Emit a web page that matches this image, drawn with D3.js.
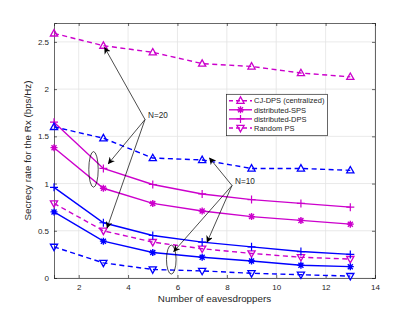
<!DOCTYPE html>
<meta charset="utf-8">
<style>
    html, body { margin: 0; padding: 0; background: #fff; }
    svg { font-family: "Liberation Sans", Arial, sans-serif; }
    .tick text { fill: #262626; font-size: 8px; }
</style>
<div id="chart"></div>
<script src="https://d3js.org/d3.v7.min.js"></script>
<script>
    // eavesdropper counts on the x axis
    let eves = [1, 3, 5, 7, 9, 11, 13];

    // N=20 (magenta)
    let cjDps20 = [2.59, 2.46, 2.39, 2.27, 2.24, 2.17, 2.13];
    let sps20 = [1.38, 0.95, 0.79, 0.71, 0.65, 0.61, 0.57];
    let dps20 = [1.65, 1.16, 0.99, 0.89, 0.83, 0.79, 0.75];
    let rnd20 = [0.79, 0.50, 0.38, 0.31, 0.26, 0.22, 0.20];

    // N=10 (blue)
    let cjDps10 = [1.60, 1.48, 1.27, 1.25, 1.16, 1.16, 1.14];
    let sps10 = [0.70, 0.39, 0.27, 0.22, 0.18, 0.135, 0.12];
    let dps10 = [0.96, 0.585, 0.45, 0.38, 0.33, 0.28, 0.25];
    let rnd10 = [0.33, 0.16, 0.09, 0.075, 0.05, 0.035, 0.02];

    let xTicks = [2, 4, 6, 8, 10, 12, 14];
    let yTicks = [0, 0.5, 1, 1.5, 2, 2.5];
    let legendNames = ["CJ-DPS (centralized)", "distributed-SPS", "distributed-DPS", "Random PS"];

    const magenta = "#cc00cc", blue = "#0000ff";

    let width = 415, height = 312;
    let margin = {left: 54, right: 40, top: 23, bottom: 34};

    let svg = d3.select("#chart").append("svg")
        .attr("width", width)
        .attr("height", height);

    let x = d3.scaleLinear().domain([1, 14]).range([margin.left, width - margin.right]);
    let y = d3.scaleLinear().domain([0, 2.7]).range([height - margin.bottom, margin.top]);

    // grid
    svg.append("g").selectAll("line").data(xTicks).join("line")
        .attr("x1", d => x(d)).attr("x2", d => x(d))
        .attr("y1", y(0)).attr("y2", y(2.7))
        .attr("stroke", "#e3e3e3").attr("stroke-width", 0.8);
    svg.append("g").selectAll("line").data(yTicks).join("line")
        .attr("y1", d => y(d)).attr("y2", d => y(d))
        .attr("x1", x(1)).attr("x2", x(14))
        .attr("stroke", "#e3e3e3").attr("stroke-width", 0.8);

    // axes
    svg.append("g")
        .attr("transform", `translate(0,${y(0)})`)
        .call(d3.axisBottom(x).tickValues(xTicks).tickSize(-3).tickPadding(6));
    svg.append("g")
        .attr("transform", `translate(${x(1)},0)`)
        .call(d3.axisLeft(y).tickValues(yTicks).tickSize(-3).tickPadding(5).tickFormat(d3.format("")));
    // top / right axes
    svg.append("g")
        .attr("transform", `translate(0,${y(2.7)})`)
        .call(d3.axisTop(x).tickValues(xTicks).tickSize(-3).tickFormat(""));
    svg.append("g")
        .attr("transform", `translate(${x(14)},0)`)
        .call(d3.axisRight(y).tickValues(yTicks).tickSize(-3).tickFormat(""));
    svg.selectAll(".domain, .tick line").attr("stroke", "#262626").attr("stroke-width", 0.7);

    svg.append("text")
        .attr("x", (x(1) + x(14)) / 2).attr("y", 302)
        .attr("text-anchor", "middle")
        .attr("font-size", 9.8).attr("fill", "#262626")
        .text("Number of eavesdroppers");
    svg.append("text")
        .attr("transform", `translate(31,${(y(0) + y(2.7)) / 2}) rotate(-90)`)
        .attr("text-anchor", "middle")
        .attr("font-size", 9.8).attr("fill", "#262626")
        .text("Secrecy rate for the Rx (bps/Hz)");

    // markers
    function marker(g, type, color) {
        if (type === "up") {
            g.append("path").attr("d", "M0,-3.8L3.6,2.6L-3.6,2.6Z")
                .attr("fill", "none").attr("stroke", color).attr("stroke-width", 1.3);
        } else if (type === "down") {
            g.append("path").attr("d", "M0,3.8L3.6,-2.6L-3.6,-2.6Z")
                .attr("fill", "none").attr("stroke", color).attr("stroke-width", 1.3);
        } else if (type === "plus") {
            g.append("path").attr("d", "M-4,0H4M0,-4V4")
                .attr("stroke", color).attr("stroke-width", 1.2);
        } else {
            g.append("path").attr("d", "M-3.5,0H3.5M0,-3.5V3.5M-2.5,-2.5L2.5,2.5M-2.5,2.5L2.5,-2.5")
                .attr("stroke", color).attr("stroke-width", 1.4);
            g.append("circle").attr("r", 1.8).attr("fill", color);
        }
    }

    let series = [
        {vals: cjDps20, color: magenta, dash: true, m: "up"},
        {vals: sps20, color: magenta, dash: false, m: "star"},
        {vals: dps20, color: magenta, dash: false, m: "plus"},
        {vals: rnd20, color: magenta, dash: true, m: "down"},
        {vals: cjDps10, color: blue, dash: true, m: "up"},
        {vals: sps10, color: blue, dash: false, m: "star"},
        {vals: dps10, color: blue, dash: false, m: "plus"},
        {vals: rnd10, color: blue, dash: true, m: "down"}
    ];

    let line = d3.line().x((d, i) => x(eves[i])).y(d => y(d));

    series.forEach(s => {
        svg.append("path")
            .attr("d", line(s.vals))
            .attr("fill", "none")
            .attr("stroke", s.color)
            .attr("stroke-width", 1.4)
            .attr("stroke-dasharray", s.dash ? "5,3.5" : null);
        s.vals.forEach((v, i) => {
            let g = svg.append("g").attr("transform", `translate(${x(eves[i])},${y(v)})`);
            marker(g, s.m, s.color);
        });
    });

    // annotations
    svg.append("defs").append("marker")
        .attr("id", "arrow")
        .attr("viewBox", "0 0 10 10")
        .attr("refX", 9).attr("refY", 5)
        .attr("markerWidth", 7).attr("markerHeight", 7)
        .attr("markerUnits", "userSpaceOnUse")
        .attr("orient", "auto")
        .append("path").attr("d", "M0,0L10,5L0,10L3,5Z").attr("fill", "#000");

    function arrow(from, to) {
        svg.append("line")
            .attr("x1", from[0]).attr("y1", from[1])
            .attr("x2", to[0]).attr("y2", to[1])
            .attr("stroke", "#000").attr("stroke-width", 0.7)
            .attr("marker-end", "url(#arrow)");
    }

    let n20 = [145, 119.5];
    arrow(n20, [x(3.05), y(2.44)]);
    arrow(n20, [x(3.2), y(1.21)]);
    arrow(n20, [x(3.15), y(0.53)]);
    svg.append("ellipse").attr("cx", x(2.6)).attr("cy", y(1.15))
        .attr("rx", 4.7).attr("ry", 17.8)
        .attr("fill", "none").attr("stroke", "#000").attr("stroke-width", 0.7);
    svg.append("text").attr("x", 148).attr("y", 118)
        .attr("font-size", 8.2).attr("fill", "#262626").text("N=20");

    let n10 = [232, 185.5];
    arrow(n10, [x(7.3), y(1.27)]);
    arrow(n10, [x(7.2), y(0.38)]);
    arrow(n10, [x(5.85), y(0.28)]);
    svg.append("ellipse").attr("cx", x(5.75)).attr("cy", y(0.195))
        .attr("rx", 4.8).attr("ry", 14.5)
        .attr("fill", "none").attr("stroke", "#000").attr("stroke-width", 0.7);
    svg.append("text").attr("x", 235).attr("y", 184)
        .attr("font-size", 8.2).attr("fill", "#262626").text("N=10");

    // legend
    let lg = svg.append("g");
    lg.append("rect")
        .attr("x", 226.5).attr("y", 94.3).attr("width", 101).attr("height", 41.4)
        .attr("fill", "#fff").attr("stroke", "#262626").attr("stroke-width", 0.7);
    let legendSeries = series.slice(0, 4);
    legendSeries.forEach((s, i) => {
        let ly = 100.7 + i * 9.1;
        lg.append("line")
            .attr("x1", 229).attr("x2", 252).attr("y1", ly).attr("y2", ly)
            .attr("stroke", s.color).attr("stroke-width", 1.4)
            .attr("stroke-dasharray", s.dash ? "4,3" : null);
        marker(lg.append("g").attr("transform", `translate(240.5,${ly})`), s.m, s.color);
        lg.append("text").attr("x", 254).attr("y", ly + 2.7)
            .attr("font-size", 7.5).attr("fill", "#262626")
            .text(legendNames[i]);
    });
</script>
